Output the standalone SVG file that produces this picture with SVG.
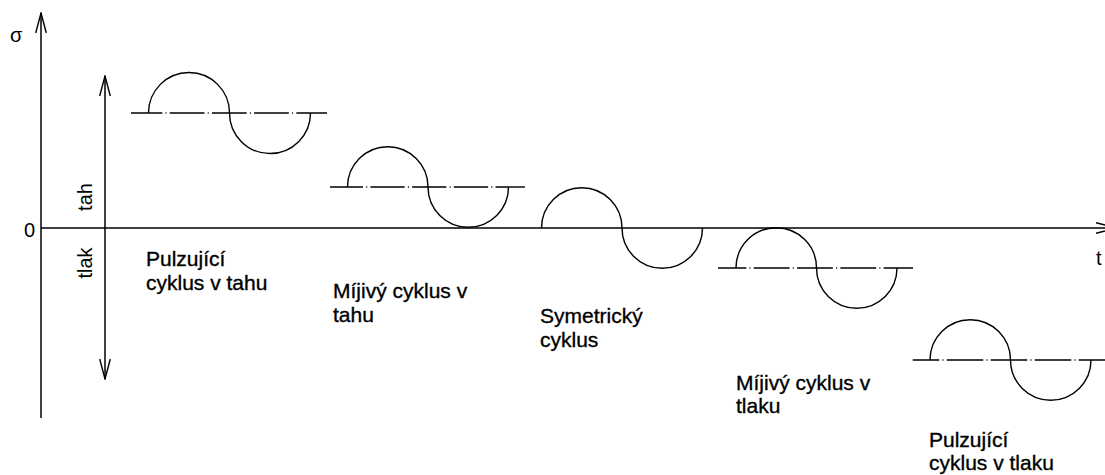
<svg xmlns="http://www.w3.org/2000/svg" width="1105" height="475" viewBox="0 0 1105 475">
<style>
.ax{stroke:#000;stroke-width:1.5;fill:none}
.wv{stroke:#000;stroke-width:1.4;fill:none}
.cl{stroke:#000;stroke-width:1.4;fill:none}
text{font-family:"Liberation Sans",Arial,sans-serif;font-size:20px;fill:#000}
.lb{font-size:21px;stroke:#000;stroke-width:0.35}
</style>
<defs>
<marker id="oa" viewBox="0 0 21 12" refX="20" refY="6" markerWidth="21" markerHeight="12" markerUnits="userSpaceOnUse" orient="auto-start-reverse">
<path d="M0,0.7 L20,6 L0,11.3" fill="none" stroke="#000" stroke-width="1.4"/>
</marker>
</defs>
<rect width="1105" height="475" fill="#fff"/>
<g id="connectors">
<line class="ax" x1="41" y1="418" x2="41" y2="13" marker-end="url(#oa)"/>
<line class="ax" x1="41" y1="228" x2="1116" y2="228" marker-end="url(#oa)"/>
<line class="ax" x1="105" y1="379" x2="105" y2="76" marker-start="url(#oa)" marker-end="url(#oa)"/>
</g>
<g id="axis-labels">
<text x="10" y="42">σ</text>
<text x="24" y="237">0</text>
<text x="1096" y="265">t</text>
<text transform="translate(92,197) rotate(-90)" text-anchor="middle">tah</text>
<text transform="translate(92,263) rotate(-90)" text-anchor="middle">tlak</text>
</g>
<g id="cycle1">
<line class="cl" x1="131" y1="113" x2="327" y2="113" stroke-dasharray="34.7 3.25 1 3.25" stroke-dashoffset="3.45"/>
<path class="wv" d="M148.5,113 A40.5,40.5 0 0 1 229.5,113 A40.5,40.5 0 0 0 310.5,113"/>
<text class="lb" x="146" y="266">Pulzující</text>
<text class="lb" x="146" y="290">cyklus v tahu</text>
</g>
<g id="cycle2">
<line class="cl" x1="330" y1="187" x2="525" y2="187" stroke-dasharray="34.2 3.25 1 3.25" stroke-dashoffset="1.25"/>
<path class="wv" d="M347.5,187 A40.25,40.25 0 0 1 428,187 A40.25,40.25 0 0 0 508.5,187"/>
<text class="lb" x="333" y="298">Míjivý cyklus v</text>
<text class="lb" x="333" y="322">tahu</text>
</g>
<g id="cycle3">
<path class="wv" d="M541.5,228 A40.25,40.25 0 0 1 622,228 A40.25,40.25 0 0 0 702.5,228"/>
<text class="lb" x="540" y="323">Symetrický</text>
<text class="lb" x="540" y="347">cyklus</text>
</g>
<g id="cycle4">
<line class="cl" x1="718" y1="268" x2="913" y2="268" stroke-dasharray="35.8 3.25 1 3.25" stroke-dashoffset="7.55"/>
<path class="wv" d="M736,268 A40.25,40.25 0 0 1 816.5,268 A40.25,40.25 0 0 0 897,268"/>
<text class="lb" x="736" y="390">Míjivý cyklus v</text>
<text class="lb" x="736" y="413">tlaku</text>
</g>
<g id="cycle5">
<line class="cl" x1="912.7" y1="360" x2="1105" y2="360" stroke-dasharray="36.5 3.25 1 3.25" stroke-dashoffset="9.95"/>
<path class="wv" d="M930,360 A40.25,40.25 0 0 1 1010.5,360 A40.25,40.25 0 0 0 1091,360"/>
<text class="lb" x="929" y="447">Pulzující</text>
<text class="lb" x="929" y="470">cyklus v tlaku</text>
</g>
</svg>
